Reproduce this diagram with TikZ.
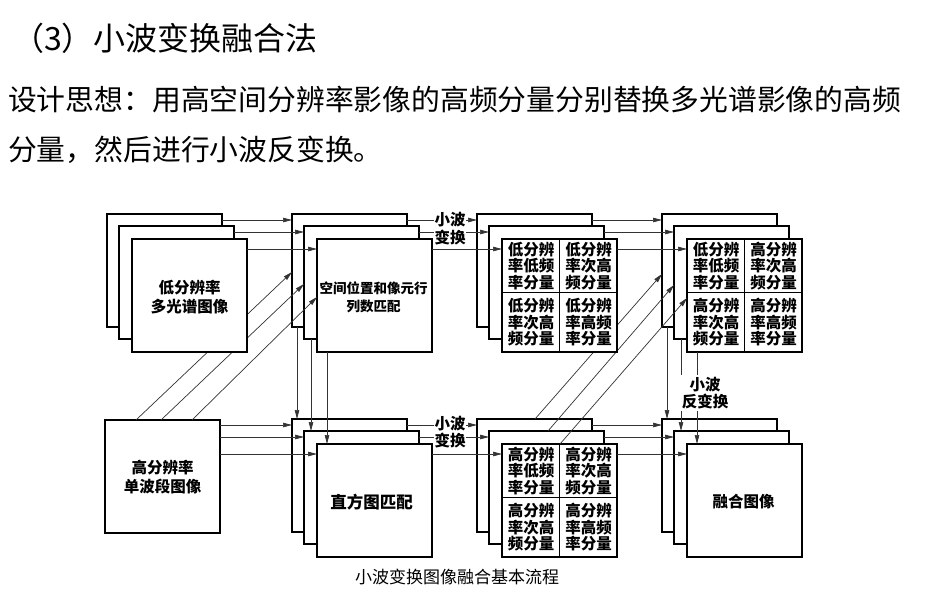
\documentclass[tikz,border=0pt]{standalone}
\usepackage{fontspec}
\newfontfamily\cjk{Noto Sans CJK SC}
\usetikzlibrary{arrows.meta}
\newcommand\mystack[3]{%
  \node[img] (#11) at (#2,#3) {};
  \node[img] (#12) at (#2+12,#3+12) {};
  \node[img] (#13) at (#2+25,#3+25) {};}
\newcommand\mycells[5]{%
  \draw[div] ([shift={(0,53)}]#13.north west) -- ([shift={(0,53)}]#13.north east);
  \draw[div] (#13.north) -- (#13.south);
  \node[cell] (#1tl) at ([shift={(29,27)}]#13.north west) {#2};
  \node[cell] (#1tr) at ([shift={(86.5,27)}]#13.north west) {#3};
  \node[cell] (#1bl) at ([shift={(29,83.5)}]#13.north west) {#4};
  \node[cell] (#1br) at ([shift={(86.5,83.5)}]#13.north west) {#5};}
\newcommand\hconn[2]{%
  \draw[arr] ([shift={(0,6)}]#11.north east) -- ([shift={(0,6)}]#21.north west);
  \draw[arr] ([shift={(0,6)}]#12.north east) -- ([shift={(0,6)}]#22.north west);
  \draw[arr] ([shift={(0,10)}]#13.north east) -- ([shift={(0,10)}]#23.north west);}
\newcommand\vconn[2]{%
  \coordinate (#2t1) at ([shift={(5,0)}]#21.north west);
  \coordinate (#2t2) at ([shift={(7,0)}]#22.north west);
  \coordinate (#2t3) at ([shift={(10,0)}]#23.north west);
  \draw[arr] (#2t1 |- #11.south) -- (#2t1);
  \draw[arr] (#2t2 |- #12.south) -- (#2t2);
  \draw[arr] (#2t3 |- #13.south) -- (#2t3);}
\begin{document}
\begin{tikzpicture}[x=1pt,y=-1pt,
  img/.style={draw,line width=1.4pt,fill=white,minimum width=115pt,minimum height=113pt,inner sep=0pt,outer sep=0pt,anchor=north west},
  conn/.style={line width=0.7pt,draw=black!80},
  arr/.style={conn,-{Triangle[length=9pt,width=4.5pt]}},
  lbl/.style={font=\cjk\bfseries\fontsize{15.5}{19}\selectfont,align=center,inner sep=0pt},
  cell/.style={font=\cjk\bfseries\fontsize{15.5}{16.5}\selectfont,align=center,inner sep=0pt},
  tag/.style={font=\cjk\bfseries\fontsize{15.5}{17}\selectfont,align=center,fill=white,inner sep=0.6pt},
  div/.style={line width=1pt}
]
\useasboundingbox[fill=white] (0,0) rectangle (941,592);

% header text
\node[anchor=base west,inner sep=0pt,font=\cjk\fontsize{32}{36}\selectfont] (title) at (12,50) {（3）小波变换融合法};
\node[anchor=base west,inner sep=0pt,font=\cjk\fontsize{28.8}{30}\selectfont] (line1) at (8,110) {设计思想：用高空间分辨率影像的高频分量分别替换多光谱影像的高频};
\node[anchor=base west,inner sep=0pt,font=\cjk\fontsize{28.8}{30}\selectfont] (line2) at (8,160) {分量，然后进行小波反变换。};

% stacks that the diagonal connectors reach
\mystack{b}{292}{214}
\mystack{d}{662}{214}
\mystack{f}{292}{419}
\mystack{g}{477}{419}
\mystack{h}{662}{419}
\node[img] (e) at (105,420) {};

\node[lbl,font=\cjk\bfseries\fontsize{13.5}{18}\selectfont] (btext) at ([shift={(-1,2)}]b3.center) {空间位置和像元行\\列数匹配};
\node[lbl,font=\cjk\bfseries\fontsize{16.5}{19}\selectfont] (ftext) at ([shift={(-3,2)}]f3.center) {直方图匹配};
\node[lbl] (htext) at ([shift={(-1,1)}]h3.center) {融合图像};
\node[lbl] (etext) at ([shift={(0,1)}]e.center) {高分辨率\\单波段图像};

\mycells{d}{低分辨\\率低频\\率分量}{高分辨\\率次高\\频分量}{高分辨\\率次高\\频分量}{高分辨\\率高频\\率分量}
\mycells{g}{高分辨\\率低频\\率分量}{高分辨\\率次高\\频分量}{高分辨\\率次高\\频分量}{高分辨\\率高频\\率分量}

% diagonal connectors (they pass behind stacks a and c)
\draw[arr] ([shift={(31,0)}]e.north west) -- ([shift={(0,58)}]b1.north west);
\draw[arr] ([shift={(56,0)}]e.north west) -- ([shift={(0,58)}]b2.north west);
\draw[arr] ([shift={(87,0)}]e.north west) -- ([shift={(0,58)}]b3.north west);
\draw[arr] ([shift={(58,0)}]g1.north west) -- ([shift={(0,60)}]d1.north west);
\draw[arr] ([shift={(59,0)}]g2.north west) -- ([shift={(0,59)}]d2.north west);
\draw[arr] ([shift={(58,0)}]g3.north west) -- ([shift={(0,59)}]d3.north west);

% front stacks
\mystack{a}{107}{214}
\mystack{c}{477}{214}
\node[lbl] (atext) at ([shift={(0,2)}]a3.center) {低分辨率\\多光谱图像};
\mycells{c}{低分辨\\率低频\\率分量}{低分辨\\率次高\\频分量}{低分辨\\率次高\\频分量}{低分辨\\率高频\\率分量}

% horizontal connectors
\hconn{a}{b}
\hconn{b}{c}
\hconn{c}{d}
\hconn{f}{g}
\hconn{g}{h}
\coordinate (fi1) at ([shift={(0,6)}]f1.north west);
\coordinate (fi2) at ([shift={(0,6)}]f2.north west);
\coordinate (fi3) at ([shift={(0,10)}]f3.north west);
\draw[arr] (e.east |- fi1) -- (fi1);
\draw[arr] (e.east |- fi2) -- (fi2);
\draw[arr] (e.east |- fi3) -- (fi3);

% vertical connectors
\vconn{b}{f}
\vconn{d}{h}

% connector labels
\node[tag] (t1) at (450,220) {小波};
\node[tag] (t2) at (450,238) {变换};
\node[tag] (t3) at (450,424) {小波};
\node[tag] (t4) at (450,441) {变换};
\node[tag,inner sep=2.5pt] (t5) at (705,393) {小波\\反变换};

% caption
\node[font=\cjk\fontsize{17}{20}\selectfont,inner sep=0pt] (cap) at (457,577) {小波变换图像融合基本流程};
\end{tikzpicture}
\end{document}
